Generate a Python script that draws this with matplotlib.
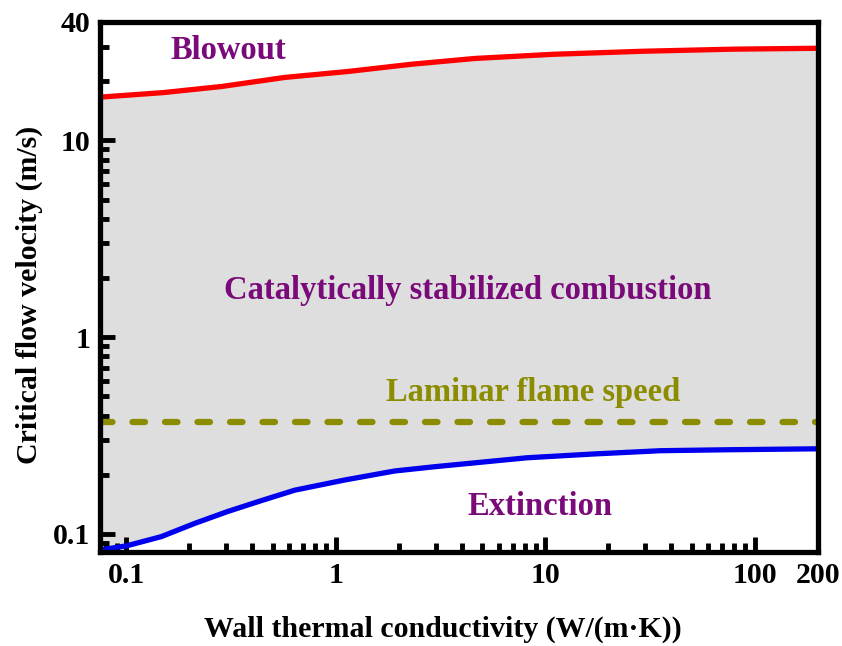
import numpy as np
import matplotlib.pyplot as plt
from matplotlib.ticker import FixedLocator, FixedFormatter, LogLocator, NullFormatter

# Wall thermal conductivity, W/(m K)
k_blow = [0.075, 0.15, 0.285, 0.57, 1.14, 2.31, 4.62, 10.9, 29.5, 79.4, 200]
# Blowout limit, m/s
u_blow = [16.6, 17.5, 18.8, 20.9, 22.4, 24.4, 26.1, 27.4, 28.4, 29.1, 29.4]

k_ext = [0.075, 0.1, 0.147, 0.211, 0.304, 0.443, 0.637, 1.10, 1.91, 3.0, 4.62, 8.2, 17.0, 35.5, 74.5, 200]
# Extinction limit, m/s
u_ext = [0.083, 0.087, 0.097, 0.113, 0.130, 0.148, 0.167, 0.188, 0.209, 0.220, 0.230, 0.244, 0.255, 0.265, 0.268, 0.271]

s_lam = 0.37  # laminar flame speed, m/s

x_ticks = [0.1, 1, 10, 100, 200]
x_ticklabels = ['0.1', '1', '10', '100', '200']
y_ticks = [0.1, 1, 10, 40]
y_ticklabels = ['0.1', '1', '10', '40']

plt.rcParams['font.family'] = ['Liberation Serif', 'DejaVu Serif']
plt.rcParams['font.weight'] = 'bold'

fig = plt.figure(figsize=(8.42, 6.46), dpi=100)
ax = fig.add_axes([0.119, 0.1455, 0.852, 0.8205])
ax.set_xscale('log')
ax.set_yscale('log')
ax.set_xlim(0.075, 200)
ax.set_ylim(0.081, 40)

# shaded stable-combustion band between the two limits
k_fill = np.unique(np.array(k_blow + k_ext))
lo = np.exp(np.interp(np.log(k_fill), np.log(k_ext), np.log(u_ext)))
hi = np.exp(np.interp(np.log(k_fill), np.log(k_blow), np.log(u_blow)))
ax.fill_between(k_fill, lo, hi, color='#dedede', lw=0, zorder=1)

ax.plot(k_blow, u_blow, color='#ff0000', lw=3.8, solid_capstyle='round',
        solid_joinstyle='round', zorder=3)
ax.plot(k_ext, u_ext, color='#0000ee', lw=3.8, solid_capstyle='round',
        solid_joinstyle='round', zorder=3)
ax.axhline(s_lam, color='#8c8c00', lw=4.5, dashes=(2.0, 3.2),
           dash_capstyle='round', zorder=2)

purple = '#7a0a7a'
fs_note = 23.5
ax.text(0.178, 0.947, 'Blowout', transform=ax.transAxes, color=purple,
        fontsize=fs_note, fontweight='bold', ha='center', va='center')
ax.text(0.513, 0.494, 'Catalytically stabilized combustion', transform=ax.transAxes,
        color=purple, fontsize=fs_note, fontweight='bold', ha='center', va='center')
ax.text(0.603, 0.300, 'Laminar flame speed', transform=ax.transAxes, color='#8c8c00',
        fontsize=fs_note, fontweight='bold', ha='center', va='center')
ax.text(0.613, 0.085, 'Extinction', transform=ax.transAxes, color=purple,
        fontsize=fs_note, fontweight='bold', ha='center', va='center')

ax.xaxis.set_major_locator(FixedLocator(x_ticks))
ax.xaxis.set_major_formatter(FixedFormatter(x_ticklabels))
ax.yaxis.set_major_locator(FixedLocator(y_ticks))
ax.yaxis.set_major_formatter(FixedFormatter(y_ticklabels))
ax.xaxis.set_minor_locator(LogLocator(base=10, subs=np.arange(2, 10)))
ax.yaxis.set_minor_locator(LogLocator(base=10, subs=np.arange(2, 10)))
ax.xaxis.set_minor_formatter(NullFormatter())
ax.yaxis.set_minor_formatter(NullFormatter())

ax.tick_params(which='both', direction='in', top=False, right=False,
               labelsize=21.5, width=3.5, pad=7)
ax.tick_params(which='major', length=11)
ax.tick_params(which='minor', length=6.5)
for lab in ax.get_xticklabels() + ax.get_yticklabels():
    lab.set_fontweight('bold')

for spine in ax.spines.values():
    spine.set_linewidth(3.8)
    spine.set_zorder(5)

ax.set_xlabel('Wall thermal conductivity (W/(m·K))', fontsize=21.5, fontweight='bold')
ax.set_ylabel('Critical flow velocity (m/s)', fontsize=21.5, fontweight='bold')
ax.xaxis.set_label_coords(0.478, -0.12)
ax.yaxis.set_label_coords(-0.08, 0.485)

fig.savefig('out.png', dpi=100)
